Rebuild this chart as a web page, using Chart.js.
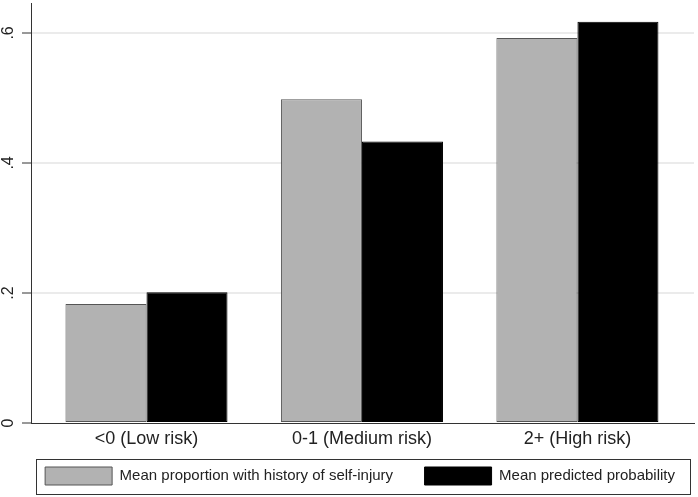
<!DOCTYPE html>
<html>
<head>
<meta charset="utf-8">
<script src="https://cdn.jsdelivr.net/npm/chart.js@4.4.1/dist/chart.umd.min.js"></script>
<style>
  html, body { margin: 0; padding: 0; background: #fff; }
  #wrap { width: 698px; height: 497px; position: relative; }
</style>
</head>
<body>
<div id="wrap"><canvas id="chart" width="698" height="497"></canvas></div>
<script>
// --- datos ---
const categories = ['<0 (Low risk)', '0-1 (Medium risk)', '2+ (High risk)'];
const seriesNames = ['Mean proportion with history of self-injury', 'Mean predicted probability'];
const observed = [0.183, 0.498, 0.592];
const predicted = [0.201, 0.433, 0.617];
const yTicks = [0, 0.2, 0.4, 0.6];
const xTicks = [0, 1, 2];

const FONT = "'Liberation Sans', Helvetica, Arial, sans-serif";
const INK = '#222';

// marco alrededor de la leyenda (estilo Stata)
const legendFrame = {
  id: 'legendFrame',
  afterDraw(chart) {
    const lg = chart.legend;
    const ctx = chart.ctx;
    ctx.save();
    ctx.strokeStyle = '#333';
    ctx.lineWidth = 1;
    ctx.strokeRect(36.5, lg.top + 11.5, 654, 35);
    ctx.restore();
  }
};

const ctx = document.getElementById('chart').getContext('2d');
new Chart(ctx, {
  type: 'bar',
  data: {
    datasets: [{
      label: seriesNames[0],
      data: observed.map((v, i) => ({ x: i, y: v })),
      backgroundColor: '#b2b2b2',
      borderColor: '#555',
      borderWidth: 1,
      borderSkipped: false
    }, {
      label: seriesNames[1],
      data: predicted.map((v, i) => ({ x: i, y: v })),
      backgroundColor: '#000',
      borderColor: '#000',
      borderWidth: 1,
      borderSkipped: false
    }]
  },
  options: {
    responsive: false,
    animation: false,
    devicePixelRatio: 1,
    categoryPercentage: 0.752,
    barPercentage: 1,
    layout: { padding: { left: 0, right: 4, top: 3, bottom: 2 } },
    plugins: {
      tooltip: { enabled: false },
      legend: {
        position: 'bottom',
        align: 'end',
        labels: {
          boxWidth: 67,
          boxHeight: 18,
          padding: 19,
          color: INK,
          font: { family: FONT, size: 15 },
          // columnas separadas como en Stata
          generateLabels(chart) {
            const items = Chart.defaults.plugins.legend.labels.generateLabels(chart);
            items[0].text += '\u00a0\u00a0\u00a0';
            return items;
          }
        }
      }
    },
    scales: {
      x: {
        type: 'linear',
        offset: false,
        min: -0.536,
        max: 2.541,
        afterBuildTicks(scale) { scale.ticks = xTicks.map(v => ({ value: v })); },
        afterFit(scale) { scale.height = 25; scale.paddingLeft = 0; scale.paddingRight = 0; },
        grid: { display: false, drawTicks: false, offset: false },
        border: { display: true, color: '#333', width: 1 },
        ticks: {
          color: INK,
          padding: 5,
          maxRotation: 0,
          font: { family: FONT, size: 18 },
          callback: v => categories[v]
        }
      },
      y: {
        min: 0,
        max: 0.646,
        afterBuildTicks(scale) { scale.ticks = yTicks.map(v => ({ value: v })); },
        afterFit(scale) { scale.width = 31; scale.paddingTop = 0; scale.paddingBottom = 0; },
        grid: {
          color: c => c.tick && c.tick.value === 0 ? 'rgba(0,0,0,0)' : '#ebebeb',
          lineWidth: 2,
          tickColor: '#333',
          tickLength: 9,
          tickWidth: 1
        },
        border: { display: true, color: '#333', width: 1 },
        ticks: {
          color: INK,
          minRotation: 90,
          maxRotation: 90,
          crossAlign: 'center',
          padding: 7,
          font: { family: FONT, size: 16 },
          callback: v => v === 0 ? '0' : v.toFixed(1).replace(/^0/, '')
        }
      }
    }
  },
  plugins: [legendFrame]
});
</script>
</body>
</html>
